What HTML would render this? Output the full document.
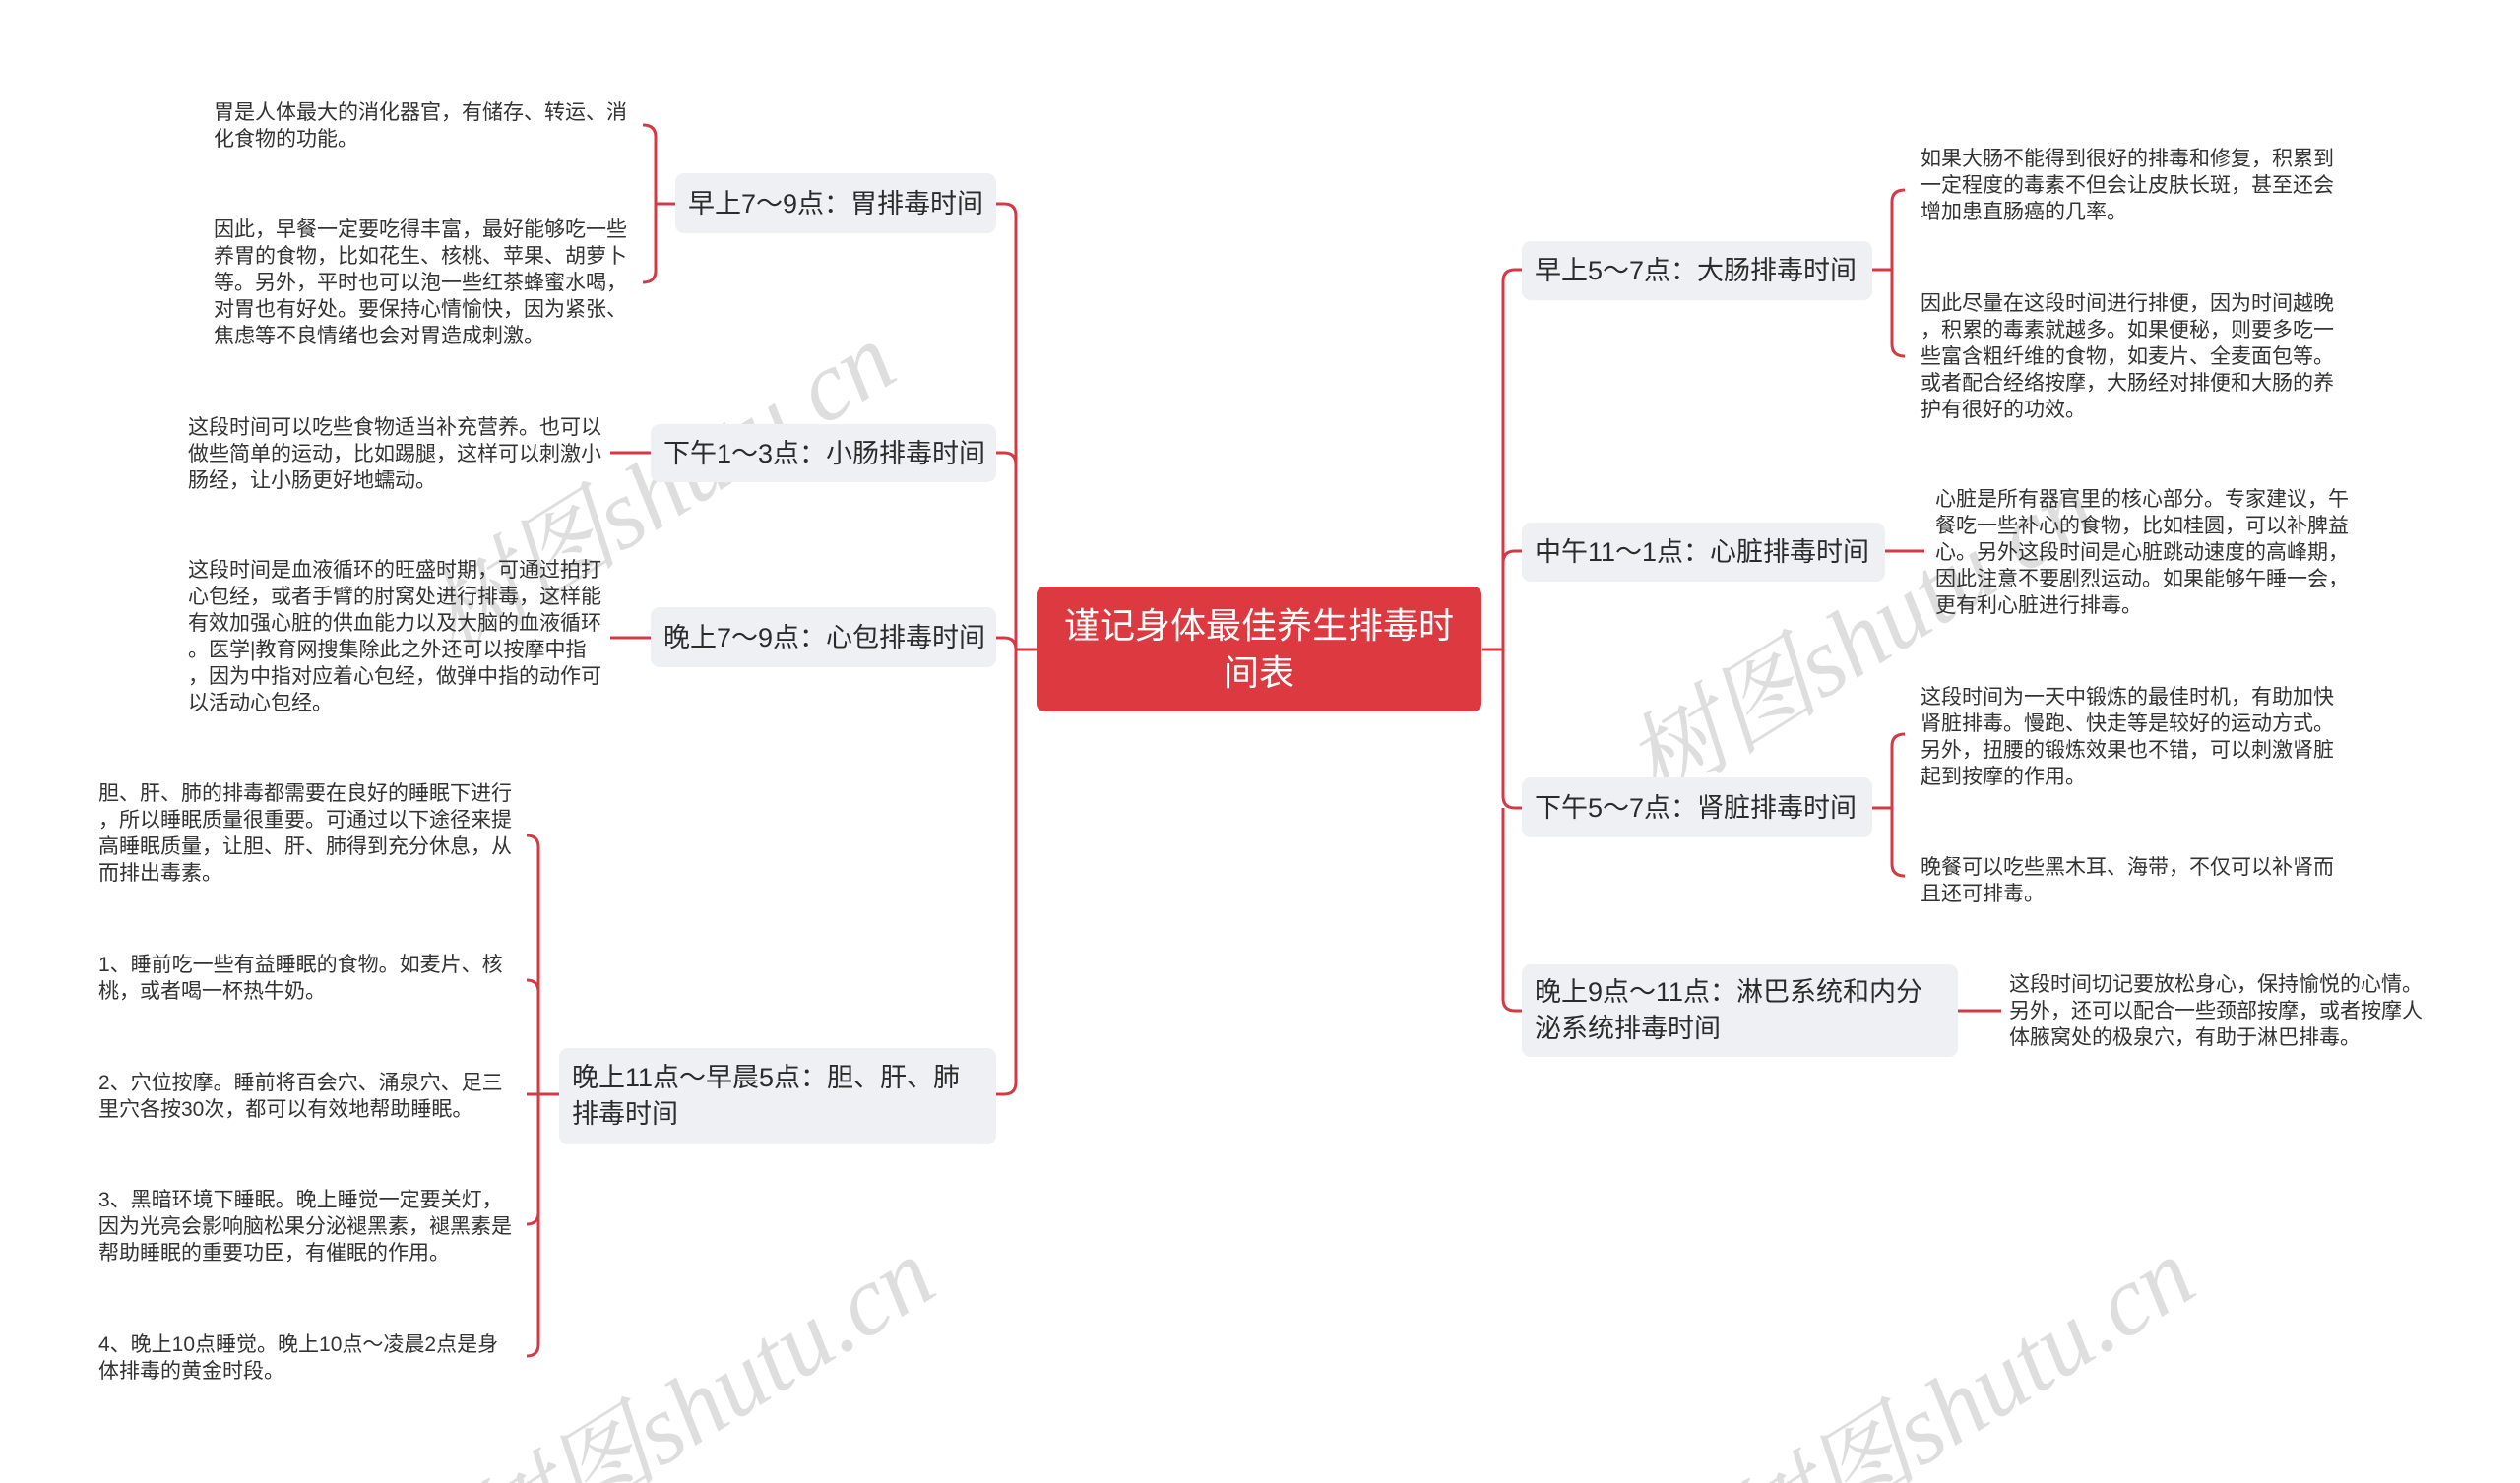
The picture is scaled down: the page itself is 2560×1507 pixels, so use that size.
<!DOCTYPE html>
<html><head><meta charset="utf-8"><style>
html,body{margin:0;padding:0;background:#fff;}
#c{position:relative;width:2560px;height:1507px;overflow:hidden;background:#fff;font-family:"Liberation Sans","Noto Sans CJK SC",sans-serif;color:#333;}
.n{position:absolute;background:#eef0f3;border-radius:9px;font-size:27px;line-height:34px;box-sizing:border-box;padding:0 13px;display:flex;align-items:center;white-space:nowrap;color:#2b2b2b;}
.n2{white-space:normal;line-height:37px;}
.l{position:absolute;font-size:21px;line-height:27px;white-space:nowrap;color:#333;}
.ctr{position:absolute;left:1053px;top:596px;width:452px;height:127px;background:#dc3a40;border-radius:8px;color:#fff;font-size:36px;line-height:48px;text-align:center;display:flex;align-items:center;justify-content:center;}
.wm{position:absolute;font-family:"Liberation Serif","Noto Serif CJK SC",serif;font-style:italic;font-size:100px;color:rgba(0,0,0,0.13);transform:rotate(-32deg);transform-origin:left top;white-space:nowrap;}
svg{position:absolute;left:0;top:0;}
</style></head><body><div id="c">
<svg width="2560" height="1507" fill="none" stroke="#d33a45" stroke-width="3">
<path d="M1053,660 H1032 V219 Q1032,207 1020,207 H1012"/>
<path d="M1032,472 Q1032,460 1020,460 H1012"/>
<path d="M1032,660 Q1032,648 1020,648 H1012"/>
<path d="M1032,660 V1100 Q1032,1112 1020,1112 H1012"/>
<path d="M1506,660 H1527 V286 Q1527,274 1539,274 H1546"/>
<path d="M1527,572 Q1527,560 1539,560 H1546"/>
<path d="M1527,660 V809 Q1527,821 1539,821 H1546"/>
<path d="M1527,821 V1015 Q1527,1027 1539,1027 H1546"/>
<path d="M686,207 H666"/>
<path d="M653,127 Q666,127 666,139 V275 Q666,287 653,287"/>
<path d="M661,460 H620"/>
<path d="M661,648 H620"/>
<path d="M568,1112 H547"/>
<path d="M535,849 Q547,849 547,861 V1366 Q547,1378 535,1378"/>
<path d="M535,996 Q547,996 547,1008"/>
<path d="M535,1112 H547"/>
<path d="M535,1244 Q547,1244 547,1232"/>
<path d="M1902,274 H1922"/>
<path d="M1935,193 Q1922,193 1922,205 V350 Q1922,362 1935,362"/>
<path d="M1915,560 H1955"/>
<path d="M1902,821 H1922"/>
<path d="M1935,746 Q1922,746 1922,758 V878 Q1922,890 1935,890"/>
<path d="M1989,1027 H2033"/>
</svg>
<div class="wm" style="left:400px;top:570px;">树图shutu.cn</div>
<div class="wm" style="left:1620px;top:720px;">树图shutu.cn</div>
<div class="wm" style="left:440px;top:1500px;">树图shutu.cn</div>
<div class="wm" style="left:1720px;top:1500px;">树图shutu.cn</div>

<div class="ctr">谨记身体最佳养生排毒时<br>间表</div>

<div class="n" style="left:686px;top:176px;width:326px;height:61px;">早上7～9点：胃排毒时间</div>
<div class="n" style="left:661px;top:431px;width:351px;height:59px;">下午1～3点：小肠排毒时间</div>
<div class="n" style="left:661px;top:617px;width:351px;height:61px;">晚上7～9点：心包排毒时间</div>
<div class="n n2" style="left:568px;top:1065px;width:444px;height:98px;">晚上11点～早晨5点：胆、肝、肺<br>排毒时间</div>

<div class="n" style="left:1546px;top:245px;width:356px;height:60px;">早上5～7点：大肠排毒时间</div>
<div class="n" style="left:1546px;top:531px;width:369px;height:60px;">中午11～1点：心脏排毒时间</div>
<div class="n" style="left:1546px;top:790px;width:356px;height:61px;">下午5～7点：肾脏排毒时间</div>
<div class="n n2" style="left:1546px;top:980px;width:443px;height:94px;">晚上9点～11点：淋巴系统和内分<br>泌系统排毒时间</div>

<div class="l" style="left:217px;top:101px;">胃是人体最大的消化器官，有储存、转运、消<br>化食物的功能。</div>
<div class="l" style="left:217px;top:220px;">因此，早餐一定要吃得丰富，最好能够吃一些<br>养胃的食物，比如花生、核桃、苹果、胡萝卜<br>等。另外，平时也可以泡一些红茶蜂蜜水喝，<br>对胃也有好处。要保持心情愉快，因为紧张、<br>焦虑等不良情绪也会对胃造成刺激。</div>
<div class="l" style="left:191px;top:421px;">这段时间可以吃些食物适当补充营养。也可以<br>做些简单的运动，比如踢腿，这样可以刺激小<br>肠经，让小肠更好地蠕动。</div>
<div class="l" style="left:191px;top:566px;">这段时间是血液循环的旺盛时期，可通过拍打<br>心包经，或者手臂的肘窝处进行排毒，这样能<br>有效加强心脏的供血能力以及大脑的血液循环<br>。医学|教育网搜集除此之外还可以按摩中指<br>，因为中指对应着心包经，做弹中指的动作可<br>以活动心包经。</div>
<div class="l" style="left:100px;top:793px;">胆、肝、肺的排毒都需要在良好的睡眠下进行<br>，所以睡眠质量很重要。可通过以下途径来提<br>高睡眠质量，让胆、肝、肺得到充分休息，从<br>而排出毒素。</div>
<div class="l" style="left:100px;top:967px;">1、睡前吃一些有益睡眠的食物。如麦片、核<br>桃，或者喝一杯热牛奶。</div>
<div class="l" style="left:100px;top:1087px;">2、穴位按摩。睡前将百会穴、涌泉穴、足三<br>里穴各按30次，都可以有效地帮助睡眠。</div>
<div class="l" style="left:100px;top:1206px;">3、黑暗环境下睡眠。晚上睡觉一定要关灯，<br>因为光亮会影响脑松果分泌褪黑素，褪黑素是<br>帮助睡眠的重要功臣，有催眠的作用。</div>
<div class="l" style="left:100px;top:1353px;">4、晚上10点睡觉。晚上10点～凌晨2点是身<br>体排毒的黄金时段。</div>

<div class="l" style="left:1951px;top:148px;">如果大肠不能得到很好的排毒和修复，积累到<br>一定程度的毒素不但会让皮肤长斑，甚至还会<br>增加患直肠癌的几率。</div>
<div class="l" style="left:1951px;top:295px;">因此尽量在这段时间进行排便，因为时间越晚<br>，积累的毒素就越多。如果便秘，则要多吃一<br>些富含粗纤维的食物，如麦片、全麦面包等。<br>或者配合经络按摩，大肠经对排便和大肠的养<br>护有很好的功效。</div>
<div class="l" style="left:1966px;top:494px;">心脏是所有器官里的核心部分。专家建议，午<br>餐吃一些补心的食物，比如桂圆，可以补脾益<br>心。另外这段时间是心脏跳动速度的高峰期，<br>因此注意不要剧烈运动。如果能够午睡一会，<br>更有利心脏进行排毒。</div>
<div class="l" style="left:1951px;top:695px;">这段时间为一天中锻炼的最佳时机，有助加快<br>肾脏排毒。慢跑、快走等是较好的运动方式。<br>另外，扭腰的锻炼效果也不错，可以刺激肾脏<br>起到按摩的作用。</div>
<div class="l" style="left:1951px;top:868px;">晚餐可以吃些黑木耳、海带，不仅可以补肾而<br>且还可排毒。</div>
<div class="l" style="left:2041px;top:987px;">这段时间切记要放松身心，保持愉悦的心情。<br>另外，还可以配合一些颈部按摩，或者按摩人<br>体腋窝处的极泉穴，有助于淋巴排毒。</div>
</div></body></html>
